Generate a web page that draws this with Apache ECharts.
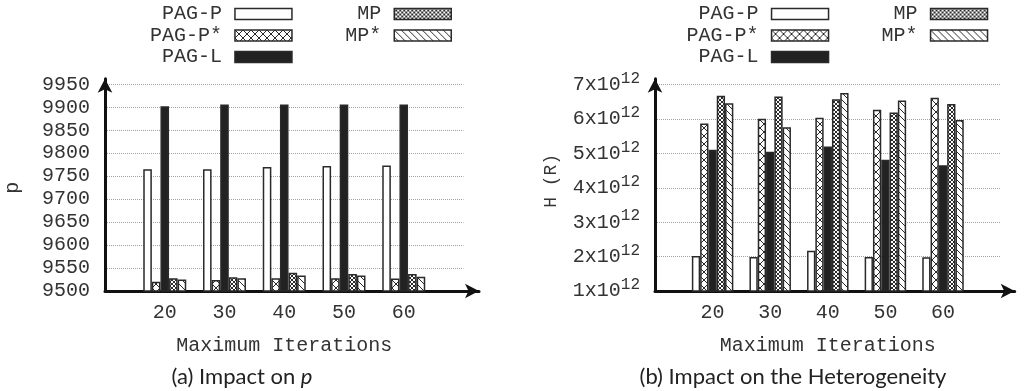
<!DOCTYPE html>
<html>
<head>
<meta charset="utf-8">
<script src="https://cdn.jsdelivr.net/npm/echarts@6/dist/echarts.min.js"></script>
<style>
  html, body { margin: 0; padding: 0; background: #fff; }
  #chart { width: 1026px; height: 391px; }
</style>
</head>
<body>
<div id="chart"></div>
<script>
// Maximum-iteration settings on the x axis
const iterations = ['20', '30', '40', '50', '60'];
const seriesNames = ['PAG-P', 'PAG-P*', 'PAG-L', 'MP', 'MP*'];

// Panel (a): resulting p
const pPAGP  = [9765, 9765, 9770, 9772, 9773];
const pPAGPs = [9520, 9524, 9528, 9528, 9527];
const pPAGL  = [9902, 9906, 9906, 9906, 9906];
const pMP    = [9528, 9530, 9540, 9537, 9537];
const pMPs   = [9525, 9528, 9534, 9534, 9531];

// Panel (b): heterogeneity H(R)
const hPAGP  = [2.02e12, 1.99e12, 2.17e12, 1.99e12, 1.98e12];
const hPAGPs = [5.87e12, 6.01e12, 6.04e12, 6.27e12, 6.62e12];
const hPAGL  = [5.11e12, 5.05e12, 5.20e12, 4.82e12, 4.66e12];
const hMP    = [6.68e12, 6.66e12, 6.58e12, 6.19e12, 6.44e12];
const hMPs   = [6.46e12, 5.76e12, 6.76e12, 6.54e12, 5.97e12];

// Tick values of the two y axes
const pTicks = [9500, 9550, 9600, 9650, 9700, 9750, 9800, 9850, 9900, 9950];
const hTicks = [1e12, 2e12, 3e12, 4e12, 5e12, 6e12, 7e12];

const MONO = "'Liberation Mono', 'DejaVu Sans Mono', monospace";
const INK = '#333';

// Hatched fills drawn into small repeating tiles
function hatch(size, dirs, lw) {
  const c = document.createElement('canvas');
  c.width = c.height = size;
  const g = c.getContext('2d');
  g.fillStyle = '#fff';
  g.fillRect(0, 0, size, size);
  g.strokeStyle = '#2a2a2a';
  g.lineWidth = lw;
  dirs.forEach(function (d) {
    [-size, 0, size].forEach(function (o) {
      g.beginPath();
      if (d === '\\') { g.moveTo(o, 0); g.lineTo(o + size, size); }
      else { g.moveTo(o + size, 0); g.lineTo(o, size); }
      g.stroke();
    });
  });
  return { image: c, repeat: 'repeat' };
}

const fills = {
  'PAG-P': '#ffffff',
  'PAG-P*': hatch(8, ['\\', '/'], 1),
  'PAG-L': '#222222',
  'MP': hatch(4, ['\\', '/'], 1),
  'MP*': hatch(7, ['\\'], 1)
};

const pData = [pPAGP, pPAGPs, pPAGL, pMP, pMPs];
const hData = [hPAGP, hPAGPs, hPAGL, hMP, hMPs];

// one empty slot on each side of the five groups
const catData = [''].concat(iterations, ['']);
function pad(arr) { return [null].concat(arr, [null]); }

function barSeries(values, axisIdx, width) {
  return seriesNames.map(function (name, i) {
    return {
      type: 'bar',
      name: name,
      xAxisIndex: axisIdx,
      yAxisIndex: axisIdx,
      data: pad(values[i]),
      barWidth: width,
      barGap: '0%',
      silent: true,
      itemStyle: { color: fills[name], borderColor: '#2a2a2a', borderWidth: 1.5 }
    };
  });
}

function catAxis(gridIndex) {
  return {
    type: 'category', gridIndex: gridIndex, data: catData, boundaryGap: false,
    axisLine: { show: false }, axisTick: { show: false },
    axisLabel: { fontFamily: MONO, fontSize: 20, color: INK, margin: 12, interval: 0 },
    splitLine: { show: false },
    name: 'Maximum Iterations', nameLocation: 'middle', nameGap: 45,
    nameTextStyle: { fontFamily: MONO, fontSize: 20, color: INK }
  };
}

// Arrowed axis frame for each panel
function arrowAxis(gridIndex) {
  return {
    type: 'value', gridIndex: gridIndex, min: 0, max: 1,
    axisLine: { show: true, onZero: false, symbol: ['none', 'arrow'], symbolSize: [11, 14],
                lineStyle: { color: '#111', width: 3 } },
    axisTick: { show: false }, axisLabel: { show: false }, splitLine: { show: false }
  };
}

const gridLine = { show: true, lineStyle: { color: '#a0a0a0', type: 'dotted', width: 1 } };

const legendBase = {
  orient: 'vertical', align: 'right', icon: 'rect', itemWidth: 57, itemHeight: 11, itemGap: 0,
  padding: 0, selectedMode: false, top: 3.25,
  textStyle: { fontFamily: MONO, fontSize: 20, color: INK, lineHeight: 21.5, padding: [0, 8, 0, 0] },
  itemStyle: { borderColor: '#2a2a2a', borderWidth: 1.5 }
};

const option = {
  animation: false,
  backgroundColor: '#fff',
  grid: [
    { left: 105, top: 84.3, width: 358.5, height: 206.7 },
    { left: 105, top: 78.7, width: 374, height: 212.3 },
    { left: 655, top: 84.7, width: 345.6, height: 206.3 },
    { left: 655, top: 78.7, width: 359.7, height: 212.3 }
  ],
  xAxis: [catAxis(0), arrowAxis(1), catAxis(2), arrowAxis(3)],
  yAxis: [
    {
      type: 'value', gridIndex: 0,
      min: pTicks[0], max: pTicks[pTicks.length - 1], interval: pTicks[1] - pTicks[0],
      axisLine: { show: false }, axisTick: { show: false },
      axisLabel: { fontFamily: MONO, fontSize: 20, color: INK, margin: 15,
                   formatter: function (v) { return String(v); } },
      splitLine: gridLine,
      name: 'p', nameLocation: 'middle', nameRotate: 90, nameGap: 82,
      nameTextStyle: { fontFamily: MONO, fontSize: 20, color: INK }
    },
    arrowAxis(1),
    {
      type: 'value', gridIndex: 2,
      min: hTicks[0], max: hTicks[hTicks.length - 1], interval: hTicks[1] - hTicks[0],
      axisLine: { show: false }, axisTick: { show: false },
      axisLabel: {
        margin: 15, color: INK,
        formatter: function (v) { return '{m|' + Math.round(v / 1e12) + 'x10}{e|12}'; },
        rich: {
          m: { fontFamily: MONO, fontSize: 20, color: INK },
          e: { fontFamily: MONO, fontSize: 16, color: INK, padding: [0, 0, 12, 0] }
        }
      },
      splitLine: gridLine,
      name: 'H (R)', nameLocation: 'middle', nameRotate: 90, nameGap: 95,
      nameTextStyle: { fontFamily: MONO, fontSize: 18, color: INK, padding: [0, 0, 0, 14] }
    },
    arrowAxis(3)
  ],
  legend: [
    Object.assign({}, legendBase, { right: 733.3, data: ['PAG-P', 'PAG-P*', 'PAG-L'] }),
    Object.assign({}, legendBase, { right: 574, data: ['MP', 'MP*'] }),
    Object.assign({}, legendBase, { right: 196.7, data: ['PAG-P', 'PAG-P*', 'PAG-L'] }),
    Object.assign({}, legendBase, { right: 37.7, data: ['MP', 'MP*'] })
  ],
  graphic: [
    {
      type: 'text', x: 242, y: 377, silent: true,
      style: {
        text: '(a) Impact on {i|p}', align: 'center', verticalAlign: 'middle',
        fontFamily: 'Lato', fontSize: 22, fill: '#222',
        rich: { i: { fontFamily: 'Lato', fontStyle: 'italic', fontSize: 22, fill: '#222' } }
      }
    },
    {
      type: 'text', x: 793, y: 377, silent: true,
      style: {
        text: '(b) Impact on the Heterogeneity', align: 'center', verticalAlign: 'middle',
        fontFamily: 'Lato', fontSize: 22, fill: '#222'
      }
    }
  ],
  series: barSeries(pData, 0, 8.6).concat(barSeries(hData, 2, 8.3))
};

const chart = echarts.init(document.getElementById('chart'), null, { renderer: 'canvas' });
chart.setOption(option);
</script>
</body>
</html>
